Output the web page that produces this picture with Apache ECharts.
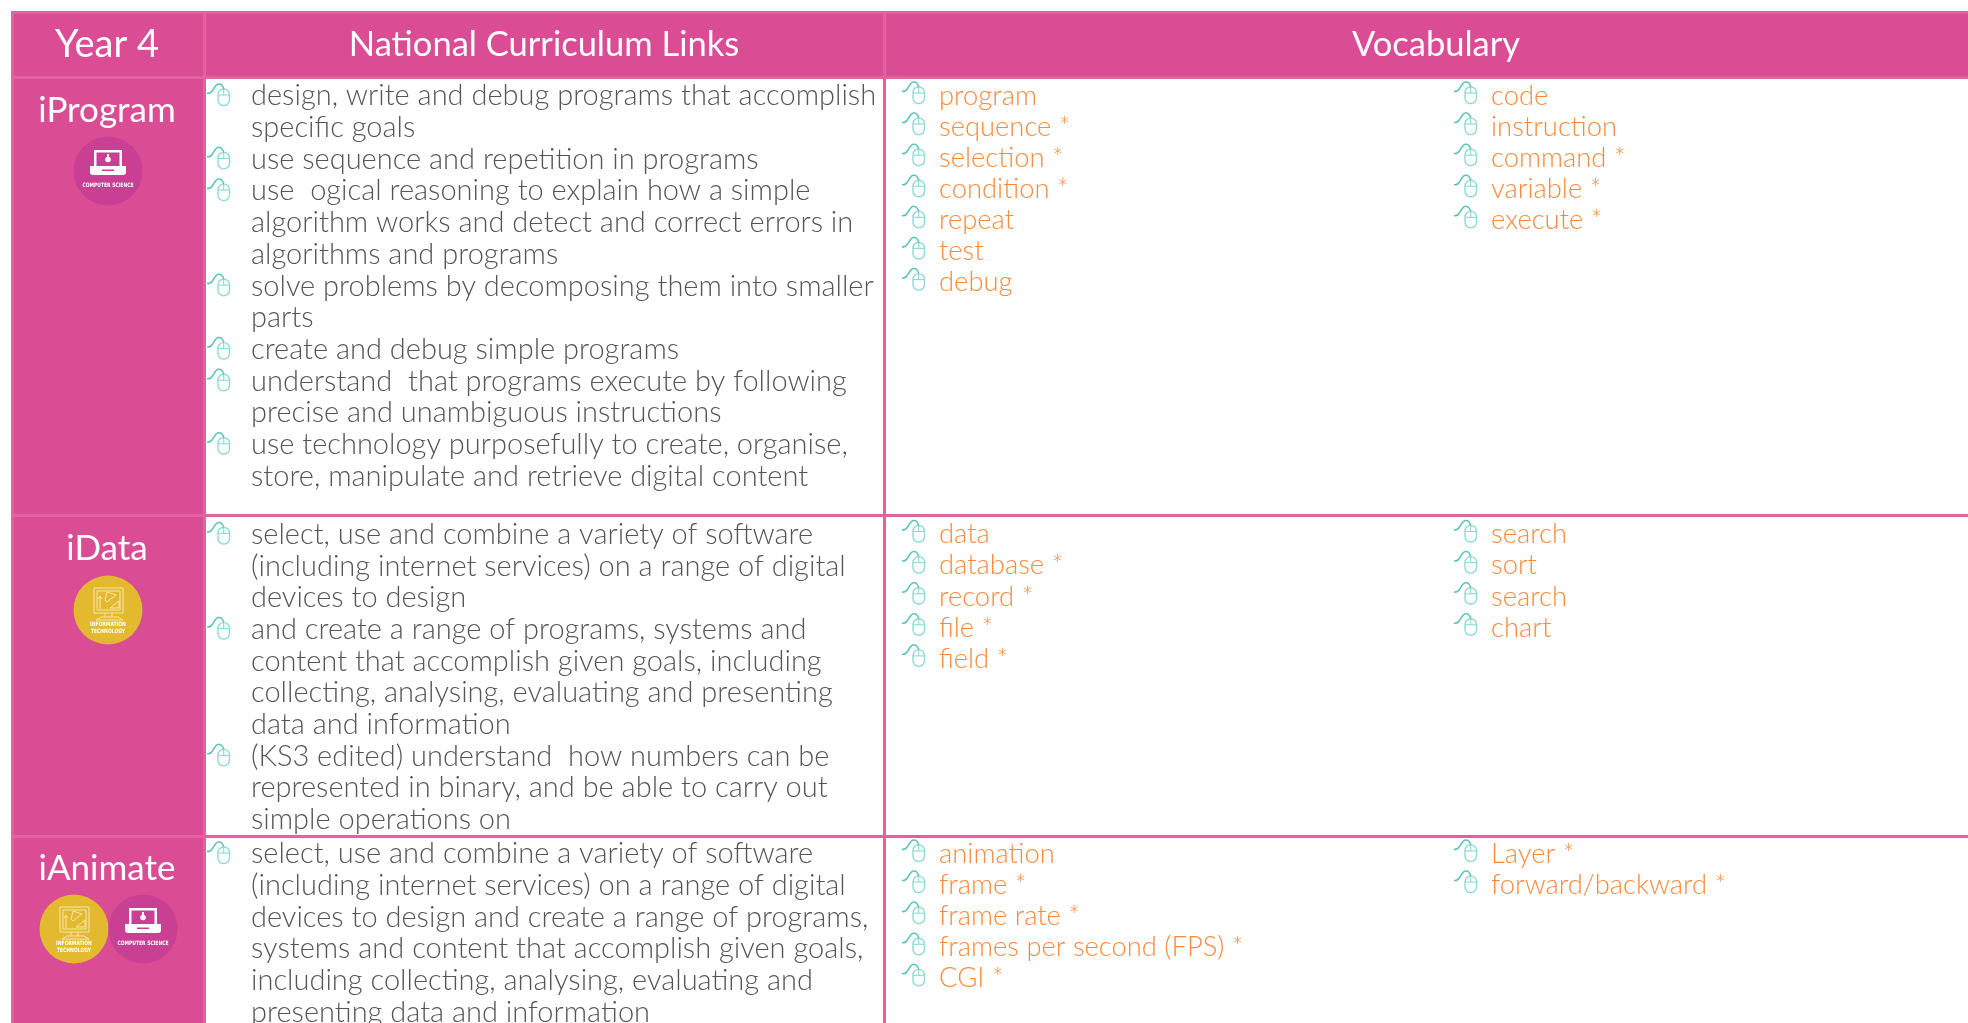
<!DOCTYPE html>
<html><head><meta charset="utf-8">
<style>html,body{margin:0;padding:0;background:#fff}#c{width:1968px;height:1023px}</style>
<script src="https://cdn.jsdelivr.net/npm/echarts@6/dist/echarts.min.js"></script>
</head><body><div id="c"></div>
<script>
const headerLabels = ['Year 4', 'National Curriculum Links', 'Vocabulary'];
const unitNames = ['iProgram', 'iData', 'iAnimate'];
const iProgramLinks = [
  ['design, write and debug programs that accomplish', 'specific goals'],
  ['use sequence and repetition in programs'],
  ['use  ogical reasoning to explain how a simple', 'algorithm works and detect and correct errors in', 'algorithms and programs'],
  ['solve problems by decomposing them into smaller', 'parts'],
  ['create and debug simple programs'],
  ['understand  that programs execute by following', 'precise and unambiguous instructions'],
  ['use technology purposefully to create, organise,', 'store, manipulate and retrieve digital content']
];
const iDataLinks = [
  ['select, use and combine a variety of software', '(including internet services) on a range of digital', 'devices to design'],
  ['and create a range of programs, systems and', 'content that accomplish given goals, including', 'collecting, analysing, evaluating and presenting', 'data and information'],
  ['(KS3 edited) understand  how numbers can be', 'represented in binary, and be able to carry out', 'simple operations on']
];
const iAnimateLinks = [
  ['select, use and combine a variety of software', '(including internet services) on a range of digital', 'devices to design and create a range of programs,', 'systems and content that accomplish given goals,', 'including collecting, analysing, evaluating and', 'presenting data and information']
];
const iProgramVocabA = ['program', 'sequence *', 'selection *', 'condition *', 'repeat', 'test', 'debug'];
const iProgramVocabB = ['code', 'instruction', 'command *', 'variable *', 'execute *'];
const iDataVocabA = ['data', 'database *', 'record *', 'file *', 'field *'];
const iDataVocabB = ['search', 'sort', 'search', 'chart'];
const iAnimateVocabA = ['animation', 'frame *', 'frame rate *', 'frames per second (FPS) *', 'CGI *'];
const iAnimateVocabB = ['Layer *', 'forward/backward *'];

const PINK = '#DA4C94', EDGE = '#E4619F', WIRE = '#58C3BA', BODY = '#8FDAD3', GREY = '#555555', ORANGE = '#F68B3E';
const BODY_FONT = 'Lato', HEAD_FONT = 'Lato';
const W = 1968, H = 1023;
const els = [];
const rect = (x, y, w, h, fill, r) => els.push({ type: 'rect', silent: true, shape: { x, y, width: w, height: h, r: r || 0 }, style: { fill } });
const text = (t, x, y, size, fill, o = {}) => els.push({
  type: 'text', x, y, scaleX: o.sx || 1, silent: true,
  style: { text: t, x: 0, y: 0, fill, font: `${o.weight || 'normal'} ${size}px "${o.family || BODY_FONT}"`, textAlign: o.align || 'left', textVerticalAlign: 'middle' }
});
const stroke = (type, shape, color, lw) => els.push({ type, silent: true, shape, style: { fill: 'none', stroke: color, lineWidth: lw } });

function drawMouse(x, y) {
  stroke('rect', { x: x + 11, y: y - 7, width: 11.5, height: 16.5, r: 5.5 }, BODY, 1.4);
  stroke('line', { x1: x + 11, y1: y - 1, x2: x + 22.5, y2: y - 1 }, BODY, 1.1);
  stroke('line', { x1: x + 16.7, y1: y - 7, x2: x + 16.7, y2: y - 1 }, BODY, 1.1);
  stroke('bezierCurve', { x1: x, y1: y - 3, cpx1: x + 6, cpy1: y + 0, cpx2: x + 7, cpy2: y - 13, x2: x + 12, y2: y - 12 }, WIRE, 1.5);
  stroke('bezierCurve', { x1: x + 12, y1: y - 12, cpx1: x + 14, cpy1: y - 12, cpx2: x + 16, cpy2: y - 10, x2: x + 16.7, y2: y - 7 }, WIRE, 1.5);
}
const tiny = (t, cx, y) => text(t, cx, y, 6, '#fff', { align: 'center', weight: 'bold', family: 'DejaVu Sans', sx: 0.75 });
function csBadge(cx, cy) {
  els.push({ type: 'circle', silent: true, shape: { cx, cy, r: 34.5 }, style: { fill: '#C93F94' } });
  rect(cx - 14, cy - 21, 28, 16, '#fff');
  rect(cx - 11.5, cy - 18.5, 23, 13.5, '#C93F94');
  els.push({ type: 'circle', silent: true, shape: { cx, cy: cy - 11.5, r: 2.8 }, style: { fill: '#fff' } });
  rect(cx - 1, cy - 17, 2, 4, '#fff');
  rect(cx - 18, cy - 5, 36, 9, '#fff', [0, 0, 3, 3]);
  rect(cx - 6, cy - 1.5, 12, 1.5, '#C93F94');
  tiny('COMPUTER SCIENCE', cx, cy + 14.5);
}
function itBadge(cx, cy) {
  const c = '#F6E7A8';
  const poly = pts => stroke('polyline', { points: pts.map(p => [cx + p[0], cy + p[1]]) }, c, 1);
  els.push({ type: 'circle', silent: true, shape: { cx, cy, r: 34.5 }, style: { fill: '#E3B92F' } });
  poly([[-14, -22], [15, -22], [15, 3], [-14, 3], [-14, -22]]);
  poly([[-11, -19], [12, -19], [12, 0], [-11, 0], [-11, -19]]);
  poly([[-3, 3], [-3, 7]]);
  poly([[4, 3], [4, 7]]);
  poly([[-12, 10], [-7, 7], [10, 7], [15, 10], [-12, 10]]);
  poly([[-8, -1], [-8, -13]]);
  poly([[-10, -11], [-8, -14], [-6, -11]]);
  poly([[-3, -10], [-1, -18], [8, -15], [-1, -8], [-3, -10]]);
  poly([[2, -2], [11, -2], [11, -9], [2, -2]]);
  tiny('INFORMATION', cx, cy + 14.5);
  tiny('TECHNOLOGY', cx, cy + 21.5);
}

const LEFT = 11, TOP = 11, COL1 = 203, COL2 = 883, ROW0 = 76, ROW1 = 514, ROW2 = 835, LW = 3;
rect(LEFT, TOP, W - LEFT, ROW0 - TOP + LW, PINK);
rect(LEFT, TOP, COL1 - LEFT, H - TOP, PINK);
rect(LEFT, TOP, W - LEFT, LW, EDGE);
rect(LEFT, ROW0, W - LEFT, LW, EDGE);
rect(LEFT, ROW1, W - LEFT, LW, EDGE);
rect(LEFT, ROW2, W - LEFT, LW, EDGE);
rect(COL1, TOP, LW, H - TOP, EDGE);
rect(COL2, TOP, LW, H - TOP, EDGE);
rect(LEFT, TOP, LW, H - TOP, EDGE);

const headCenters = [107, 544, 1436];
headerLabels.forEach((t, i) => text(t, headCenters[i], 45, i === 0 ? 38 : 34.5, '#fff', { align: 'center', family: HEAD_FONT }));
unitNames.forEach((t, i) => text(t, 107, [111, 549, 868.5][i], 35, '#fff', { align: 'center', family: HEAD_FONT }));

csBadge(108, 171);
itBadge(108, 610);
itBadge(74, 929);
csBadge(143, 929);

const LINK_STEP = 31.7, VOC_STEP = 31.1, LINK_SIZE = 29, VOC_SIZE = 27.4, W300 = '300';
function drawLinks(items, y0) {
  let y = y0;
  items.forEach(lines => {
    drawMouse(207, y);
    lines.forEach(l => { text(l, 251, y, LINK_SIZE, GREY, { weight: W300 }); y += LINK_STEP; });
  });
}
drawLinks(iProgramLinks, 96);
drawLinks(iDataLinks, 534.5);
drawLinks(iAnimateLinks, 854);
function drawVocab(list, xIcon, y0) {
  list.forEach((l, i) => {
    const y = y0 + i * VOC_STEP;
    drawMouse(xIcon, y - 2);
    text(l, xIcon + 37, y, VOC_SIZE, ORANGE, { weight: W300 });
  });
}
drawVocab(iProgramVocabA, 902, 96);
drawVocab(iProgramVocabB, 1454, 96);
drawVocab(iDataVocabA, 902, 534.5);
drawVocab(iDataVocabB, 1454, 534.5);
drawVocab(iAnimateVocabA, 902, 854);
drawVocab(iAnimateVocabB, 1454, 854);

const chart = echarts.init(document.getElementById('c'), null, { renderer: 'canvas' });
chart.setOption({ animation: false, backgroundColor: '#fff', graphic: { elements: els } });
</script></body></html>
